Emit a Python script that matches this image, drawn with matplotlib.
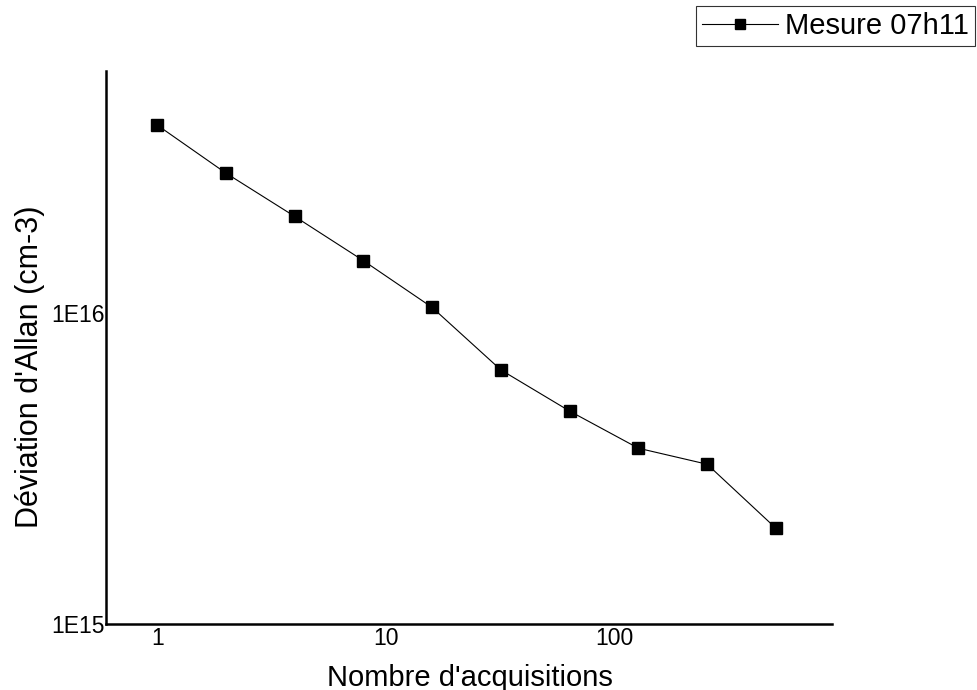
import matplotlib
matplotlib.use("Agg")
import matplotlib.pyplot as plt
from matplotlib.ticker import FixedLocator, FixedFormatter, NullLocator

plt.rcParams["font.family"] = ["Liberation Sans", "DejaVu Sans"]

# Allan deviation vs number of averaged acquisitions
n_acq = [1, 2, 4, 8, 16, 32, 64, 128, 256, 512]
allan_dev = [4.01e16, 2.81e16, 2.04e16, 1.47e16, 1.04e16,
             6.55e15, 4.83e15, 3.67e15, 3.26e15, 2.03e15]

x_ticks = [1, 10, 100]
x_tick_labels = ["1", "10", "100"]
y_ticks = [1e15, 1e16]
y_tick_labels = ["1E15", "1E16"]

fig = plt.figure(figsize=(9.77, 6.90), dpi=100)
ax = fig.add_axes([0.109, 0.0957, 0.743, 0.802])

ax.plot(n_acq, allan_dev, color="black", lw=0.8, marker="s",
        markersize=9, markerfacecolor="black", markeredgecolor="black",
        label="Mesure 07h11")

ax.set_xscale("log")
ax.set_yscale("log")
ax.set_xlim(0.6, 905)
ax.set_ylim(1e15, 6.0e16)

ax.xaxis.set_major_locator(FixedLocator(x_ticks))
ax.xaxis.set_major_formatter(FixedFormatter(x_tick_labels))
ax.xaxis.set_minor_locator(NullLocator())
ax.yaxis.set_major_locator(FixedLocator(y_ticks))
ax.yaxis.set_major_formatter(FixedFormatter(y_tick_labels))
ax.yaxis.set_minor_locator(NullLocator())
ax.tick_params(axis="both", length=0, labelsize=16.5)
ax.tick_params(axis="x", pad=2)
ax.tick_params(axis="y", pad=1)

for side in ("top", "right"):
    ax.spines[side].set_visible(False)
for side in ("left", "bottom"):
    ax.spines[side].set_linewidth(1.8)

ax.set_xlabel("Nombre d'acquisitions", fontsize=21, labelpad=10)
ax.set_ylabel("Déviation d'Allan (cm-3)", fontsize=22)
ax.yaxis.set_label_coords(-0.085, 0.4645)

leg = fig.legend(loc="upper right", bbox_to_anchor=(0.998, 0.991),
                 fontsize=21, frameon=True, fancybox=False,
                 borderaxespad=0, markerscale=0.75,
                 handlelength=2.6, borderpad=0.2, handletextpad=0.25)
leg.get_frame().set_edgecolor("black")
leg.get_frame().set_linewidth(0.8)

fig.savefig("out.png", dpi=100)
